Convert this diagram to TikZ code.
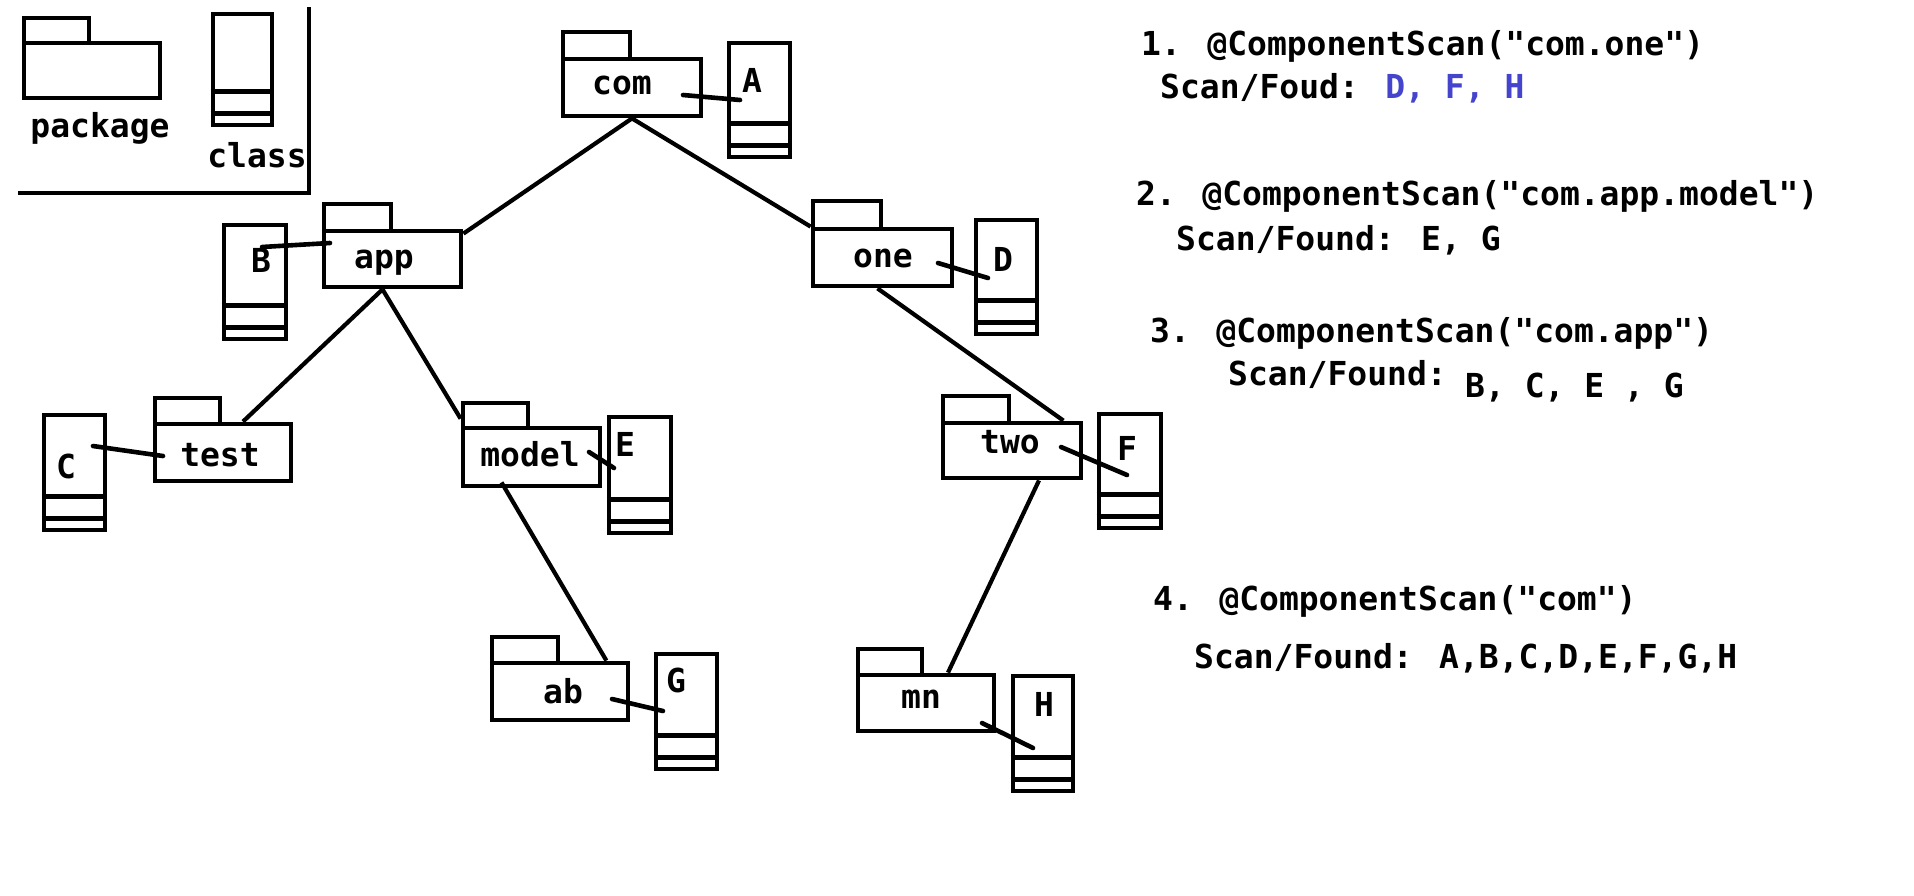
\documentclass[tikz,border=0pt]{standalone}
\usepackage{fontspec}
\newfontfamily\cf{DejaVu Sans Mono Bold}
\definecolor{scanblue}{RGB}{68,68,204}
\tikzset{
  boxline/.style={line width=4.8pt, draw=black},
  treeline/.style={line width=4.2pt, draw=black},
  link/.style={line width=4.6pt, draw=black, line cap=round},
  txt/.style={inner sep=0pt, anchor=base, font=\cf\fontsize{33}{40}\selectfont},
  rtxt/.style={txt, anchor=base west},
}
\newcommand\boxnode[5]{\node[boxline, rectangle, inner sep=0pt, minimum width={#4-#2}, minimum height={#5-#3}] (#1) at ({(#2+#4)/2},{(#3+#5)/2}) {};}
% name, x1, ytab, tabx2, ybody, x2, y2
\newcommand\pkgbox[7]{\draw[boxline] (#2,#3) rectangle (#4,#5);\boxnode{#1}{#2}{#5}{#6}{#7}}
% name, x1, y1, x2, y2
\newcommand\clsbox[5]{\boxnode{#1}{#2}{#3}{#4}{#5}%
  \draw[boxline] (#1.south west) ++(0,-36) -- ++({#4-#2},0);%
  \draw[boxline] (#1.south west) ++(0,-14) -- ++({#4-#2},0);}
\begin{document}
\begin{tikzpicture}[x=1pt,y=-1pt]
\useasboundingbox (0,0) rectangle (1914,895);
\fill[white] (0,0) rectangle (1914,895);

% legend
\pkgbox{legpkg}{24}{18}{89}{43}{160}{98}
\node[txt] (legpkgl) at (100,137) {package};
\clsbox{legcls}{213}{14}{272}{125}
\node[txt] (legclsl) at (257,167) {class};
\draw[boxline] (18,193) -- (309,193) -- (309,7);

% packages
\pkgbox{com}{563}{32}{630}{59}{701}{116}
\node[txt] (coml) at (622,94) {com};
\pkgbox{app}{324}{204}{391}{231}{461}{287}
\node[txt] (appl) at (384,268) {app};
\pkgbox{test}{155}{398}{220}{424}{291}{481}
\node[txt] (testl) at (220,466) {test};
\pkgbox{model}{463}{403}{528}{428}{600}{486}
\node[txt] (modell) at (530,466) {model};
\pkgbox{ab}{492}{637}{558}{663}{628}{720}
\node[txt] (abl) at (563,703) {ab};
\pkgbox{one}{813}{201}{881}{229}{952}{286}
\node[txt] (onel) at (883,267) {one};
\pkgbox{two}{943}{396}{1009}{423}{1081}{478}
\node[txt] (twol) at (1010,453) {two};
\pkgbox{mn}{858}{649}{922}{675}{994}{731}
\node[txt] (mnl) at (921,708) {mn};

% classes
\clsbox{A}{729}{43}{790}{157}
\node[txt] (Al) at (752,92) {A};
\clsbox{B}{224}{225}{286}{339}
\node[txt] (Bl) at (261,272) {B};
\clsbox{C}{44}{415}{105}{530}
\node[txt] (Cl) at (66,478) {C};
\clsbox{D}{976}{220}{1037}{334}
\node[txt] (Dl) at (1003,271) {D};
\clsbox{E}{609}{417}{671}{533}
\node[txt] (El) at (625,456) {E};
\clsbox{F}{1099}{414}{1161}{528}
\node[txt] (Fl) at (1127,460) {F};
\clsbox{G}{656}{654}{717}{769}
\node[txt] (Gl) at (676,692) {G};
\clsbox{H}{1013}{676}{1073}{791}
\node[txt] (Hl) at (1044,716) {H};

% tree connectors
\draw[treeline] (com.south) -- ([yshift=-5pt]app.north east);
\draw[treeline] (com.south) -- (one.north west);
\draw[treeline] ([xshift=-10pt]app.south) -- ([xshift=20pt]test.north);
\draw[treeline] ([xshift=-10pt]app.south) -- ([yshift=7pt]model.north west);
\draw[treeline] ([xshift=-5pt]one.south) -- ([xshift=-20pt]two.north east);
\draw[treeline] ([xshift=-30pt,yshift=6pt]model.south) -- ([xshift=-24pt]ab.north east);
\draw[treeline] ([xshift=27pt]two.south) -- ([xshift=22pt]mn.north);

% package-class links
\coordinate (comA1) at (683,95);   \coordinate (comA2) at (740,100);
\coordinate (appB1) at (330,243);  \coordinate (appB2) at (262,247);
\coordinate (testC1) at (163,456); \coordinate (testC2) at (93,446);
\coordinate (modelE1) at (589,452);\coordinate (modelE2) at (614,468);
\coordinate (abG1) at (612,699);   \coordinate (abG2) at (663,711);
\coordinate (oneD1) at (938,263);  \coordinate (oneD2) at (988,278);
\coordinate (twoF1) at (1061,447); \coordinate (twoF2) at (1127,475);
\coordinate (mnH1) at (982,723);   \coordinate (mnH2) at (1033,748);
\draw[link] (comA1) -- (comA2);
\draw[link] (appB1) -- (appB2);
\draw[link] (testC1) -- (testC2);
\draw[link] (modelE1) -- (modelE2);
\draw[link] (abG1) -- (abG2);
\draw[link] (oneD1) -- (oneD2);
\draw[link] (twoF1) -- (twoF2);
\draw[link] (mnH1) -- (mnH2);

% right-hand text
\node[rtxt] (t1) at (1141,55) {1. @ComponentScan("com.one")};
\node[rtxt] (t1b) at (1160,98) {Scan/Foud: \textcolor{scanblue}{D, F, H}};
\node[rtxt] (t2) at (1136,205) {2. @ComponentScan("com.app.model")};
\node[rtxt] (t2b) at (1176,250) {Scan/Found: E, G};
\node[rtxt] (t3) at (1150,342) {3. @ComponentScan("com.app")};
\node[rtxt] (t3b) at (1228,385) {Scan/Found:};
\node[rtxt] (t3c) at (1465,397) {B, C, E , G};
\node[rtxt] (t4) at (1153,610) {4. @ComponentScan("com")};
\node[rtxt] (t4b) at (1194,668) {Scan/Found: A,B,C,D,E,F,G,H};
\end{tikzpicture}
\end{document}
